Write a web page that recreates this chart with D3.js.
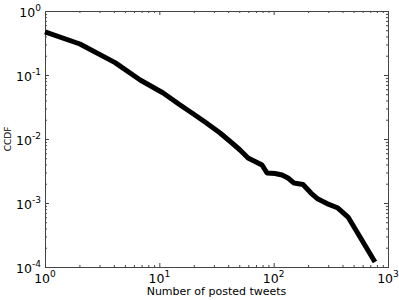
<!DOCTYPE html>
<meta charset="utf-8">
<style>
body { margin: 0; background: #fff; }
text { font-family: "DejaVu Sans", sans-serif; fill: #000; }
.line { fill: none; stroke: #000; stroke-width: 5px; stroke-linejoin: round; stroke-linecap: butt; }
.frame { fill: none; stroke: #444; stroke-width: 1px; }
.tick line { stroke: #444; }
.domain { display: none; }
</style>
<svg width="399" height="300"></svg>
<script src="https://cdn.jsdelivr.net/npm/d3@7"></script>
<script>

// values
var tweets = [1, 2.02, 4.1, 6.8, 10.8, 15.2, 19.3, 25.1, 34, 43.2, 50.8, 59.7, 73, 79.1, 87.5,
              102.8, 118.3, 133.5, 150.6, 180.6, 212, 244, 292.6, 365, 447, 536, 769];
var ccdf = [0.47, 0.305, 0.156, 0.0835, 0.0523, 0.034, 0.0255, 0.0184, 0.0124, 0.00866, 0.00673,
            0.00505, 0.00422, 0.00392, 0.00294, 0.00289, 0.00274, 0.00246, 0.00205, 0.00195,
            0.00143, 0.00115, 0.00098, 0.000835, 0.000604, 0.000352, 0.00012];

var xTicks = [1, 10, 100, 1000],
    xTickExp = ["0", "1", "2", "3"];
var yTicks = [1, 0.1, 0.01, 0.001, 0.0001],
    yTickExp = ["0", "-1", "-2", "-3", "-4"];

var svg = d3.select("svg"),
    pLeft = 45, pRight = 388, pTop = 11, pBottom = 267;

var x = d3.scaleLog().domain([1, 1000]).range([pLeft, pRight]),
    y = d3.scaleLog().domain([1e-4, 1]).range([pBottom, pTop]);

function minors(lo, hi) {
  var out = [];
  for (var p = lo; p < hi * 0.999; p *= 10)
    for (var k = 2; k < 10; k++) out.push(p * k);
  return out;
}

// ticks pointing inward on all four sides
function ticks(axisFn, scale, vals, size, pos) {
  svg.append("g")
      .attr("transform", pos)
      .call(axisFn(scale).tickValues(vals).tickSize(size).tickFormat(""));
}
ticks(d3.axisBottom, x, xTicks, -4, "translate(0," + pBottom + ")");
ticks(d3.axisBottom, x, minors(1, 1000), -2, "translate(0," + pBottom + ")");
ticks(d3.axisTop, x, xTicks, -4, "translate(0," + pTop + ")");
ticks(d3.axisTop, x, minors(1, 1000), -2, "translate(0," + pTop + ")");
ticks(d3.axisLeft, y, yTicks, -4, "translate(" + pLeft + ",0)");
ticks(d3.axisLeft, y, minors(1e-4, 1), -2, "translate(" + pLeft + ",0)");
ticks(d3.axisRight, y, yTicks, -4, "translate(" + pRight + ",0)");
ticks(d3.axisRight, y, minors(1e-4, 1), -2, "translate(" + pRight + ",0)");

svg.append("rect")
    .attr("class", "frame")
    .attr("x", pLeft + 0.5).attr("y", pTop + 0.5)
    .attr("width", pRight - pLeft).attr("height", pBottom - pTop);

// tick labels like 10^n
function powLabel(sel, exp) {
  sel.append("tspan").style("font-size", "12.5px").text("10");
  sel.append("tspan").style("font-size", "9px").attr("dy", "-6").text(exp);
}

xTicks.forEach(function(v, i) {
  svg.append("text")
      .attr("x", x(v))
      .attr("y", pBottom + 16)
      .attr("text-anchor", "middle")
      .call(powLabel, xTickExp[i]);
});

yTicks.forEach(function(v, i) {
  svg.append("text")
      .attr("x", pLeft - 4)
      .attr("y", y(v) + 6)
      .attr("text-anchor", "end")
      .call(powLabel, yTickExp[i]);
});

var line = d3.line()
    .x(function(d, i) { return x(tweets[i]); })
    .y(function(d) { return y(d); });

svg.append("path")
    .attr("class", "line")
    .attr("d", line(ccdf));

svg.append("text")
    .attr("x", (pLeft + pRight) / 2)
    .attr("y", 295)
    .attr("text-anchor", "middle")
    .style("font-size", "11px")
    .text("Number of posted tweets");

svg.append("text")
    .attr("transform", "translate(11," + (pTop + pBottom) / 2 + ") rotate(-90)")
    .attr("text-anchor", "middle")
    .style("font-size", "9px")
    .text("CCDF");

</script>
